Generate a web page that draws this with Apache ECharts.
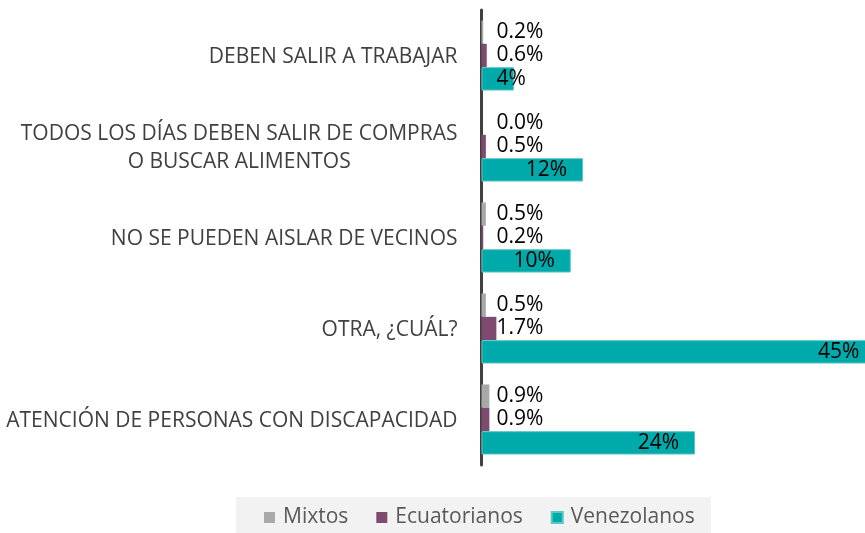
<!DOCTYPE html>
<html>
<head>
<meta charset="utf-8">
<script src="https://cdn.jsdelivr.net/npm/echarts@6/dist/echarts.min.js"></script>
<style>
    html, body { margin: 0; padding: 0; background: #fff; }
    #chart { width: 865px; height: 533px; }
</style>
</head>
<body>
<div id="chart"></div>
<script>
// categorias (de arriba hacia abajo)
var categories = [
    'DEBEN SALIR A TRABAJAR',
    'TODOS LOS DÍAS DEBEN SALIR DE COMPRAS\nO BUSCAR ALIMENTOS',
    'NO SE PUEDEN AISLAR DE VECINOS',
    'OTRA, ¿CUÁL?',
    'ATENCIÓN DE PERSONAS CON DISCAPACIDAD'
];
var seriesNames = ['Mixtos', 'Ecuatorianos', 'Venezolanos'];
var mixtos = [0.2, 0.0, 0.5, 0.5, 0.9];
var ecuatorianos = [0.6, 0.5, 0.2, 1.7, 0.9];
var venezolanos = [3.7, 11.6, 10.2, 45, 24.4];

var colors = ['#a9a9a9', '#7f4a6f', '#00aaaa'];
var fontFamily = '"Open Sans", "Noto Sans", sans-serif';

// etiqueta fija a la derecha del eje para valores pequeños
var nearLabel = {
    show: true,
    position: [15, '50%'],
    align: 'left',
    verticalAlign: 'middle',
    color: '#000',
    fontSize: 21,
    fontFamily: fontFamily
};

var myChart = echarts.init(document.getElementById('chart'));

var series = [mixtos, ecuatorianos].map(function (data, i) {
    return {
        name: seriesNames[i],
        type: 'bar',
        data: data,
        barGap: 0,
        barCategoryGap: '23%',
        itemStyle: { color: colors[i] },
        label: Object.assign({}, nearLabel, {
            formatter: function (p) { return p.value.toFixed(1) + '%'; }
        })
    };
});

series.push({
    name: seriesNames[2],
    type: 'bar',
    data: venezolanos.map(function (v) {
        // barras cortas: la etiqueta va junto al eje
        if (v < 6) {
            return { value: v, label: Object.assign({}, nearLabel) };
        }
        return v;
    }),
    barGap: 0,
    barCategoryGap: '23%',
    itemStyle: { color: colors[2], borderColor: '#5cc6c6', borderWidth: 1 },
    label: {
        show: true,
        position: 'insideRight',
        distance: 16,
        color: '#000',
        fontSize: 21,
        fontFamily: fontFamily,
        formatter: function (p) { return Math.round(p.value) + '%'; }
    }
});

myChart.setOption({
    animation: false,
    color: colors,
    // la barra de 45% sale del lienzo, como en la imagen recortada
    grid: {
        left: 481.5,
        width: 437.5,
        top: 10,
        height: 455,
        outerBoundsMode: 'none'
    },
    xAxis: {
        type: 'value',
        min: 0,
        max: 50,
        show: false
    },
    yAxis: {
        type: 'category',
        inverse: true,
        data: categories,
        axisTick: { show: false },
        axisLine: { lineStyle: { color: '#404040', width: 3 } },
        axisLabel: {
            margin: 24,
            color: '#404040',
            fontSize: 21,
            fontFamily: fontFamily,
            lineHeight: 28,
            formatter: function (value) {
                return value.split('\n').map(function (l) {
                    return '{c|' + l + '}';
                }).join('\n');
            },
            rich: {
                c: { align: 'center', color: '#404040', fontSize: 21, fontFamily: fontFamily, lineHeight: 28, padding: [3, 0, 0, 0] }
            }
        }
    },
    legend: {
        left: 236,
        top: 497,
        data: seriesNames,
        icon: 'rect',
        itemWidth: 11,
        itemHeight: 11,
        itemGap: 28,
        backgroundColor: '#f2f2f2',
        padding: [10, 16, 6, 28],
        textStyle: {
            color: '#595959',
            fontSize: 21,
            fontFamily: fontFamily,
            padding: [0, 0, 0, 3]
        }
    },
    series: series
});
</script>
</body>
</html>
